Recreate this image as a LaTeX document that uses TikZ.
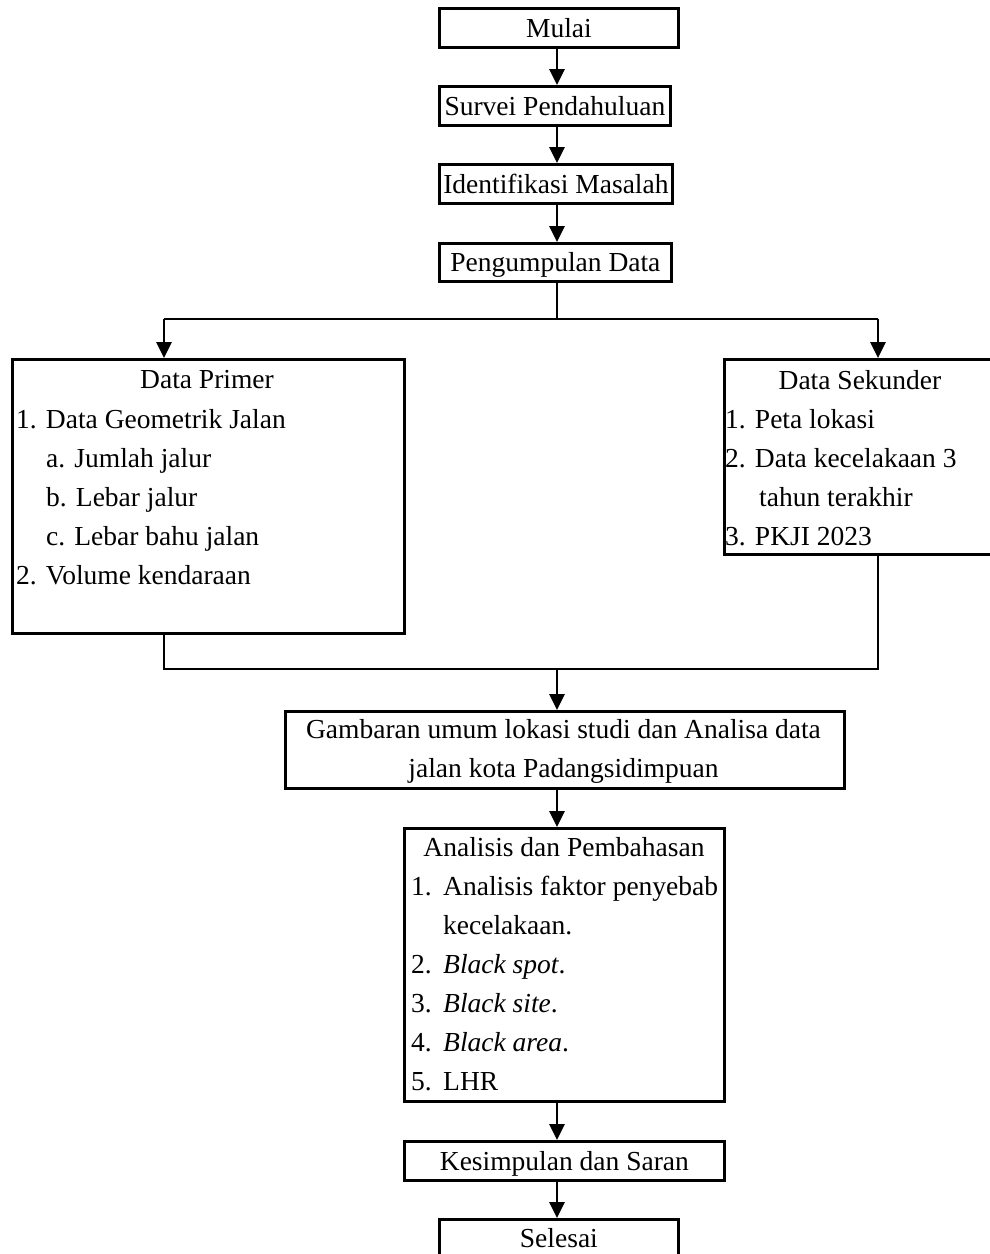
\documentclass[tikz,border=0pt]{standalone}
\usepackage{fontspec}
\setmainfont{Liberation Serif}
\usetikzlibrary{arrows.meta}
\begin{document}
\begin{tikzpicture}[x=1pt,y=-1pt,
 box/.style={draw, line width=2.8pt, inner sep=0pt, anchor=north west, font=\fontsize{27.5}{39}\selectfont, text height=19pt, text depth=0pt},
 lbl/.style={inner sep=0pt, font=\fontsize{27.5}{39}\selectfont},
 ln/.style={lbl, anchor=base west},
 ctr/.style={lbl, anchor=base},
 flow/.style={line width=2.8pt, -{Triangle[width=15pt,length=16pt]}},
 plain/.style={line width=2.8pt}]
\useasboundingbox (0,0) rectangle (990,1254);
% boxes
\node[box, minimum width=239pt, minimum height=39pt] (mulai) at (438,7) {Mulai};
\node[box, minimum width=231pt, minimum height=39pt] (survei) at (438,85) {Survei Pendahuluan};
\node[box, minimum width=233pt, minimum height=39pt] (ident) at (438,163) {Identifikasi Masalah};
\node[box, minimum width=232pt, minimum height=38pt] (kumpul) at (438,242) {Pengumpulan Data};
\node[box, minimum width=392pt, minimum height=274pt] (primer) at (11,358) {};
\node[box, minimum width=269pt, minimum height=195pt] (sekunder) at (723,358) {};
\node[box, minimum width=559pt, minimum height=77pt] (gambar) at (284,710) {};
\node[box, minimum width=320pt, minimum height=273pt] (analisis) at (403,827) {};
\node[box, minimum width=320pt, minimum height=39pt] (kesimpulan) at (403,1140) {Kesimpulan dan Saran};
\node[box, minimum width=239pt, minimum height=41pt, text height=16pt] (selesai) at (438,1218) {Selesai};
% Data Primer text
\node[ctr] (ptitle) at (207,388) {Data Primer};
\node[ln] (p1) at (16,428) {1. Data Geometrik Jalan};
\node[ln] (p1a) at (46,467) {a. Jumlah jalur};
\node[ln] (p1b) at (46,506) {b. Lebar jalur};
\node[ln] (p1c) at (46,545) {c. Lebar bahu jalan};
\node[ln] (p2) at (16,584) {2. Volume kendaraan};
% Data Sekunder text
\node[ctr] (stitle) at (860,389) {Data Sekunder};
\node[ln] (s1) at (725,428) {1. Peta lokasi};
\node[ln] (s2) at (725,467) {2. Data kecelakaan 3};
\node[ln] (s2b) at (759,506) {tahun terakhir};
\node[ln] (s3) at (725,545) {3. PKJI 2023};
% Gambaran text
\node[ctr] (g1) at (563.5,738) {Gambaran umum lokasi studi dan Analisa data};
\node[ctr] (g2) at (563.5,777) {jalan kota Padangsidimpuan};
% Analisis text
\node[ctr] (atitle) at (564,856) {Analisis dan Pembahasan};
\node[ln] (n1) at (411,895) {1.};
\node[ln] (a1) at (443,895) {Analisis faktor penyebab};
\node[ln] (a1b) at (443,934) {kecelakaan.};
\node[ln] (n2) at (411,973) {2.};
\node[ln] (a2) at (443,973) {\textit{Black spot}.};
\node[ln] (n3) at (411,1012) {3.};
\node[ln] (a3) at (443,1012) {\textit{Black site}.};
\node[ln] (n4) at (411,1051) {4.};
\node[ln] (a4) at (443,1051) {\textit{Black area}.};
\node[ln] (n5) at (411,1090) {5.};
\node[ln] (a5) at (443,1090) {LHR};
% connectors
\coordinate (split) at (557,319);
\coordinate (pin) at (164,319);
\coordinate (sin) at (878,319);
\coordinate (jl) at (164,669);
\coordinate (jr) at (878,669);
\coordinate (join) at (557,669);
\draw[flow] (mulai.south -| split) -- (survei.north -| split);
\draw[flow] (survei.south -| split) -- (ident.north -| split);
\draw[flow] (ident.south -| split) -- (kumpul.north -| split);
\draw[plain] (kumpul.south -| split) -- (split);
\draw[plain] (pin) -- (sin);
\draw[flow] (pin) -- (pin |- primer.north);
\draw[flow] (sin) -- (sin |- sekunder.north);
\draw[plain] (pin |- primer.south) -- (jl) -- (jr) -- (sin |- sekunder.south);
\draw[flow] (join) -- (join |- gambar.north);
\draw[flow] (gambar.south -| split) -- (analisis.north -| split);
\draw[flow] (analisis.south -| split) -- (kesimpulan.north -| split);
\draw[flow] (kesimpulan.south -| split) -- (selesai.north -| split);
\end{tikzpicture}
\end{document}
